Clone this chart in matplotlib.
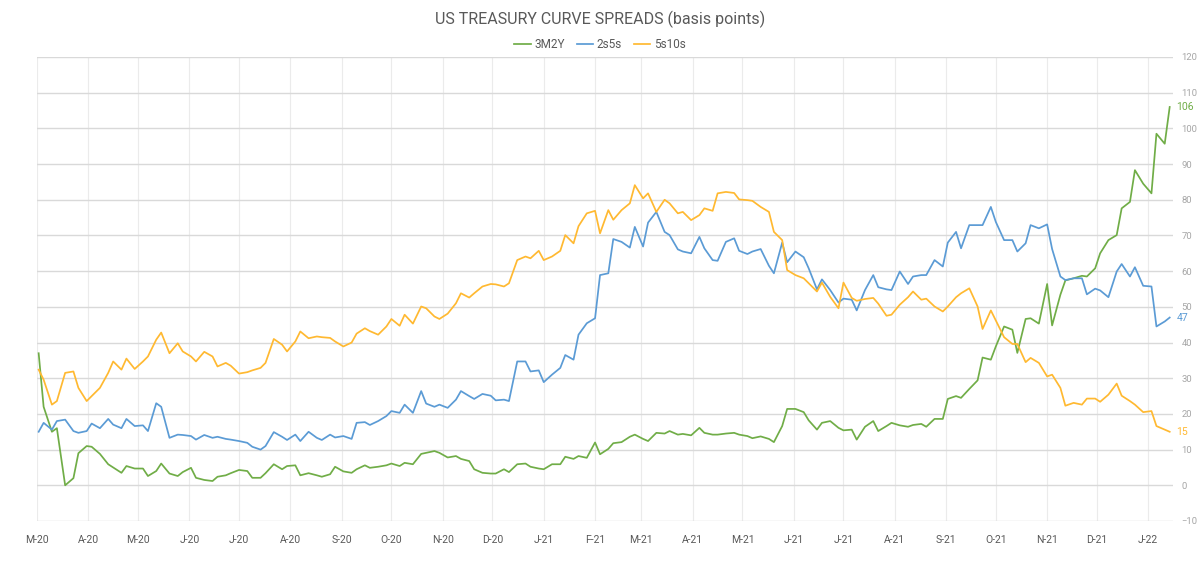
import matplotlib
matplotlib.use("Agg")
import matplotlib.pyplot as plt
import matplotlib.dates as mdates
import matplotlib.ticker as mticker
import pandas as pd

# spreads sampled every 3 business days from 2 Mar 2020 (basis points)
dates = pd.bdate_range("2020-03-02", periods=164, freq="3B")

spread_3m2y = [
    37, 22, 15, 16, 0, 2, 9, 11, 10.8, 8.8, 5.9, 5, 3.5, 5.4, 4.7, 4.7, 2.6, 4, 6.1, 3.3,
    2.6, 3.7, 4.9, 2.1, 1.5, 1.2, 2.4, 2.8, 3.4, 4.3, 4, 2.1, 2.1, 3.4, 5.9, 4.5, 5.4, 5.6, 2.8, 3.4,
    2.8, 2.4, 3.1, 5.2, 3.9, 3.5, 4.5, 5.6, 4.9, 5.2, 5.6, 6.1, 5.4, 6.3, 5.9, 8.8, 9.1, 9.6, 9.1, 7.8,
    8.2, 7.4, 6.8, 4.5, 3.5, 3.3, 3.3, 4.5, 3.7, 5.9, 6.1, 5.2, 4.7, 4.5, 5.9, 5.9, 8, 7.4, 8.2, 7.7,
    12, 8.7, 10.2, 11.8, 12.1, 13.6, 14.2, 13, 12.4, 14.7, 14.5, 15.2, 14.2, 14.4, 14, 16.1, 14.7, 14.2, 14.2, 14.5,
    14.7, 14.2, 13.8, 13.2, 13.7, 13, 12.1, 16.6, 21.4, 21.4, 20.5, 18.2, 15.6, 17.5, 18, 16.1, 15.4, 15.6, 12.8, 16.4,
    18, 15.2, 16.6, 17.5, 16.8, 16.4, 16.9, 17.2, 16.4, 18.6, 18.6, 24.2, 25, 24.5, 27, 29.4, 35.8, 35.2, 38.9, 44.5,
    43.6, 37.1, 46.6, 46.8, 45.3, 56.4, 44.8, 53.4, 57.4, 58, 58.7, 58.5, 60.8, 65, 68.7, 70.1, 77.6, 79.4, 88.3, 84.5,
    81.8, 98.5, 95.7, 106,
]

spread_2s5s = [
    15, 17.5, 15.6, 18, 18.4, 15.2, 14.7, 15.2, 17.3, 16, 18.6, 17, 16, 18.6, 16.6, 16.8, 15.2, 23, 22, 13.3,
    14.2, 14.1, 13.8, 12.8, 14.1, 13.3, 13.6, 13, 12.8, 12.4, 11.9, 10.8, 10, 11, 14.9, 13.6, 12.7, 14.2, 12.4, 15,
    13.3, 12.7, 14.2, 13.4, 13.8, 13, 17.5, 17.7, 16.9, 18, 19.4, 20.8, 20.3, 22.6, 20.3, 26.4, 22.9, 22, 22.6, 21.7,
    24, 26.4, 25, 24.2, 25.6, 25.1, 23.8, 24, 23.6, 34.7, 34.7, 31.9, 32.2, 28.9, 31, 32.9, 36.5, 35.2, 42.2, 45.4,
    46.8, 58.9, 59.4, 69, 68.2, 66.6, 72.4, 66.9, 73.6, 76.6, 71, 70.1, 66.1, 65.5, 65, 69.6, 66.4, 63.1, 62.9, 68.2,
    69.2, 65.7, 64.8, 65.5, 66.2, 61.5, 59.4, 68, 62.5, 65.5, 63.9, 60.8, 54.9, 57.7, 54.7, 51.2, 52.3, 52, 49, 54.7,
    58.9, 55.5, 54.9, 54.7, 59.9, 56.4, 58.5, 58.9, 58.9, 63.1, 61.3, 68, 71, 66.4, 72.9, 72.9, 72.9, 78, 73.8, 68.7,
    68.7, 65.5, 67.8, 72.9, 72, 73.1, 66.2, 58.5, 57.5, 58, 58, 53.5, 55.1, 54.6, 52.7, 59.9, 62, 58.5, 61.1, 55.9,
    55.7, 44.5, 45.9, 47,
]

spread_5s10s = [
    32.4, 29.6, 22.6, 23.6, 31.5, 31.9, 27.3, 23.6, 25, 27.3, 31.5, 34.7, 32.4, 35.5, 32.6, 34.7, 36.1, 40.8, 42.8, 37,
    39.8, 37.5, 36.1, 34.7, 37.4, 36.1, 33.3, 34.3, 33.5, 31.3, 31.7, 32.2, 32.9, 34.3, 41, 39.4, 37.5, 40.3, 43.1, 41.2,
    41.7, 41.5, 41.3, 40.3, 38.9, 40, 42.5, 44, 43.2, 42.2, 44.5, 46.6, 44.7, 47.8, 45.3, 50.1, 49.6, 47.3, 46.6, 48.1,
    51, 53.8, 52.6, 53.8, 55.7, 56.4, 56.3, 55.7, 56.6, 63.1, 64.1, 63.6, 65.7, 63.1, 64.1, 65.7, 70.1, 67.8, 72.6, 76.2,
    76.9, 70.6, 77.1, 74.4, 77.1, 79, 84.1, 80.4, 81.8, 76.6, 80, 79, 76.2, 76.6, 74.3, 75.7, 77.6, 76.9, 81.8, 82.2,
    81.9, 80.1, 79.9, 79.7, 78, 76.6, 71, 68.7, 60.3, 58.9, 58, 56.6, 54.3, 56.8, 52.8, 49.6, 56.8, 52.5, 51.7, 52.2,
    52.5, 50.9, 47.5, 47.8, 50.6, 52.7, 54.3, 52, 52.3, 50.1, 48.7, 50.1, 52.7, 53.8, 55.2, 50.1, 43.8, 49, 46.2, 41.5,
    39.6, 39.6, 34.5, 35.7, 34.3, 30.5, 31, 27.3, 22.3, 23.1, 22.6, 24.3, 24.3, 23.4, 25.4, 28.5, 25.1, 23.6, 22.6, 20.5,
    20.8, 16.6, 15.6, 15,
]

series = [
    ("3M2Y", spread_3m2y, "#70AD47"),
    ("2s5s", spread_2s5s, "#5B9BD5"),
    ("5s10s", spread_5s10s, "#FFB931"),
]

plt.rcParams["font.family"] = ["Roboto", "DejaVu Sans"]

fig = plt.figure(figsize=(12, 5.65), dpi=100)
ax = fig.add_axes([37 / 1200, 1 - 521 / 565, (1173 - 37) / 1200, (521 - 57) / 565])

for name, vals, col in series:
    ax.plot(dates, vals, color=col, lw=1.25, label=name)
    ax.annotate("%d" % round(vals[-1]), xy=(dates[-1], vals[-1]), xytext=(5, 0),
                textcoords="offset points", color=col, fontsize=7.5, va="center", ha="left")

ax.set_ylim(-10, 120)
ax.set_xlim(pd.Timestamp("2020-03-01"), pd.Timestamp("2022-01-16"))
ax.yaxis.set_major_locator(mticker.MultipleLocator(10))
ax.yaxis.tick_right()
ax.xaxis.set_major_locator(mdates.MonthLocator())


def month_label(x, pos):
    d = mdates.num2date(x)
    return d.strftime("%b")[0] + "-" + d.strftime("%y")


ax.xaxis.set_major_formatter(mticker.FuncFormatter(month_label))
ax.tick_params(axis="y", length=0, pad=6, labelsize=6.8, labelcolor="#a6a6a6")
ax.tick_params(axis="x", length=0, pad=10, labelsize=7.5, labelcolor="#595959")
ax.grid(axis="y", color="#d9d9d9", lw=1)
ax.grid(axis="x", color="#ebebeb", lw=0.8)
ax.set_axisbelow(True)
for s in ax.spines.values():
    s.set_visible(False)

fig.text(0.5, 1 - 19 / 565, "US TREASURY CURVE SPREADS (basis points)", ha="center", va="center",
         fontsize=11.5, color="#595959")
fig.legend(loc="center", bbox_to_anchor=(0.5, 1 - 45 / 565), ncol=3, frameon=False, fontsize=8.5,
           handlelength=1.4, handletextpad=0.3, columnspacing=1.0, labelcolor="#595959")

fig.savefig("out.png", dpi=100, facecolor="white")
